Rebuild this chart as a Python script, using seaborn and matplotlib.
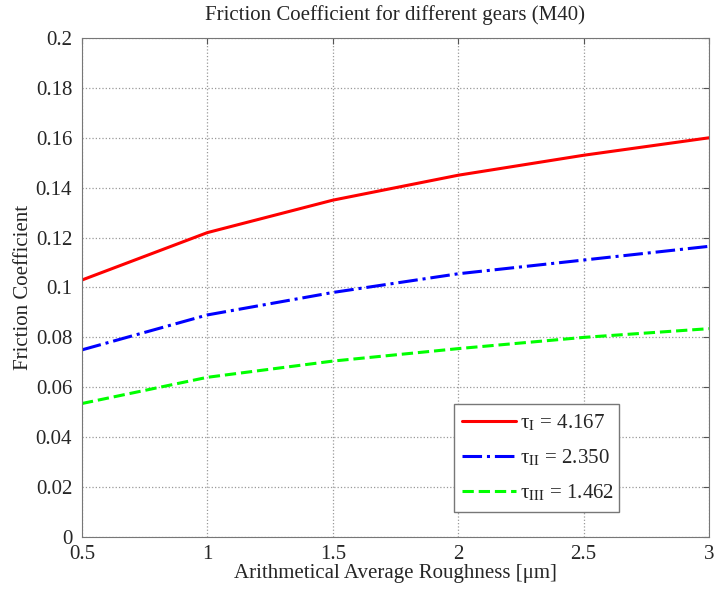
import seaborn as sns
import matplotlib.pyplot as plt
import pandas as pd

# roughness values [um] and friction coefficient per gear
roughness = [0.5, 1.0, 1.5, 2.0, 2.5, 3.0]
gear_I = [0.103, 0.122, 0.135, 0.145, 0.153, 0.160]
gear_II = [0.075, 0.089, 0.098, 0.1055, 0.111, 0.1165]
gear_III = [0.0535, 0.064, 0.0705, 0.0755, 0.080, 0.0835]
labels = [r'τ$_{\mathrm{I}}$ = 4.167', r'τ$_{\mathrm{II}}$ = 2.350', r'τ$_{\mathrm{III}}$ = 1.462']

sns.set_style("white")
plt.rcParams['font.family'] = ['Liberation Serif', 'DejaVu Serif']
plt.rcParams['mathtext.fontset'] = 'stix'

fig = plt.figure(figsize=(7.14, 5.91), dpi=100)
ax = fig.add_axes([0.1148, 0.0914, 0.8782, 0.8443])

styles = [('#ff0000', '-'), ('#0000ff', '-.'), ('#00ff00', '--')]
for vals, lab, (col, ls) in zip([gear_I, gear_II, gear_III], labels, styles):
    df = pd.DataFrame({'x': roughness, 'y': vals})
    sns.lineplot(data=df, x='x', y='y', color=col, linestyle=ls, linewidth=2.2, label=lab, ax=ax)

ax.set_xlim(0.5, 3)
ax.set_ylim(0, 0.2)
ax.set_xticks([0.5, 1, 1.5, 2, 2.5, 3])
ax.set_xticklabels(['0.5', '1', '1.5', '2', '2.5', '3'])
ax.set_yticks([i * 0.02 for i in range(11)])
ax.set_yticklabels(['0', '0.02', '0.04', '0.06', '0.08', '0.1', '0.12', '0.14', '0.16', '0.18', '0.2'])
ax.tick_params(direction='in', top=True, right=True, labelsize=15, length=4, color='#555555')
ax.tick_params(axis='y', pad=7)
ax.tick_params(axis='x', pad=6)
ax.grid(True, linestyle=':', color='#999999', linewidth=0.9)
for s in ax.spines.values():
    s.set_color('#777777')

ax.set_title('Friction Coefficient for different gears (M40)', fontsize=15, pad=13)
ax.set_xlabel('Arithmetical Average Roughness [μm]', fontsize=15, labelpad=0)
ax.set_ylabel('Friction Coefficient', fontsize=15, labelpad=2)

leg = ax.legend(loc='lower left', bbox_to_anchor=(0.593, 0.05, 0.263, 0.204), mode='expand',
                fontsize=15, fancybox=False, edgecolor='#777777', framealpha=1,
                handlelength=2.6, handletextpad=0.2, borderaxespad=0, labelspacing=0.7)
leg.get_frame().set_linewidth(1.0)

plt.savefig('out.png', dpi=100)
